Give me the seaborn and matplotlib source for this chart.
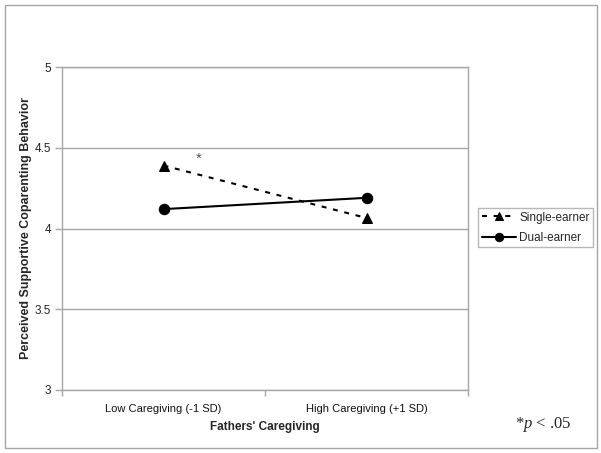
import matplotlib
matplotlib.use("Agg")
import matplotlib.pyplot as plt
import seaborn as sns
import pandas as pd
from matplotlib.patches import Rectangle
from matplotlib.ticker import FixedLocator

# Data
categories = ["Low Caregiving (-1 SD)", "High Caregiving (+1 SD)"]
single_earner = [4.39, 4.065]
dual_earner = [4.12, 4.19]
y_ticks = [3, 3.5, 4, 4.5, 5]
y_tick_labels = ["3", "3.5", "4", "4.5", "5"]
series_names = ["Single-earner", "Dual-earner"]

df = pd.DataFrame({
    "x": categories * 2,
    "y": single_earner + dual_earner,
    "group": [series_names[0]] * 2 + [series_names[1]] * 2,
})

sns.set_theme(style="white")
plt.rcParams["font.family"] = ["Liberation Sans", "DejaVu Sans"]
plt.rcParams["mathtext.fontset"] = "custom"
plt.rcParams["mathtext.it"] = "Liberation Serif:italic"
plt.rcParams["mathtext.rm"] = "Liberation Serif"

W, H = 601, 453
fig = plt.figure(figsize=(W / 100, H / 100), dpi=100)
fig.patch.set_facecolor("white")

L, R, T, B = 62, 468, 67, 390
ax = fig.add_axes([L / W, 1 - B / H, (R - L) / W, (B - T) / H])

sns.lineplot(
    data=df, x="x", y="y", hue="group", style="group",
    palette={series_names[0]: "black", series_names[1]: "black"},
    markers={series_names[0]: "^", series_names[1]: "o"},
    dashes={series_names[0]: (2.4, 3.2), series_names[1]: ""},
    markersize=7.5, linewidth=1.5, markeredgecolor="black",
    sort=False, ax=ax,
)

grid_c = "#a6a6a6"
ax.set_xlim(-0.5, 1.5)
ax.set_ylim(3, 5)
ax.set_yticks(y_ticks)
ax.set_yticklabels(y_tick_labels)
ax.yaxis.grid(True, color=grid_c, linewidth=1.0)
ax.set_axisbelow(True)
for s in ax.spines.values():
    s.set_color(grid_c)
    s.set_linewidth(1.0)
    s.set_visible(True)

ax.set_xticks([0, 1])
ax.set_xticklabels(categories)
ax.xaxis.set_minor_locator(FixedLocator([-0.5, 0.5, 1.5]))
ax.tick_params(axis="x", which="major", length=0, pad=10, labelsize=8, colors="#111111")
ax.tick_params(axis="x", which="minor", length=4, width=1, color=grid_c, direction="out", bottom=True)
ax.tick_params(axis="y", which="major", length=5, width=1, color=grid_c, direction="out", left=True, labelsize=8.5, pad=3)
for lbl in ax.get_yticklabels():
    lbl.set_color("#222222")

ax.set_xlabel("Fathers' Caregiving", fontsize=8.5, fontweight="bold", labelpad=5)
ax.set_ylabel("Perceived Supportive Coparenting Behavior", fontsize=9, fontweight="bold", labelpad=2)

ax.text(0.175, 4.43, "*", fontsize=11, color="#555555", ha="center", va="center")

leg = ax.legend(
    loc="upper left", bbox_to_anchor=(478 / W, 1 - 208 / H), bbox_transform=fig.transFigure,
    frameon=True, fancybox=False, fontsize=8.5, handlelength=2.9, handletextpad=0.3,
    borderpad=0.3, labelspacing=0.7, borderaxespad=0,
)
leg.get_frame().set_edgecolor(grid_c)
leg.get_frame().set_linewidth(1.0)
for h in leg.legend_handles:
    h.set_markersize(6)

fig.text(515 / W, 1 - 424 / H, r"*$p$ < .05", fontsize=12, family="Liberation Serif", va="center", ha="left")

fig.add_artist(Rectangle((5 / W, 1 - 448 / H), 592 / W, 443 / H, transform=fig.transFigure,
                         fill=False, edgecolor=grid_c, linewidth=1.0))

fig.savefig("out.png", dpi=100)
